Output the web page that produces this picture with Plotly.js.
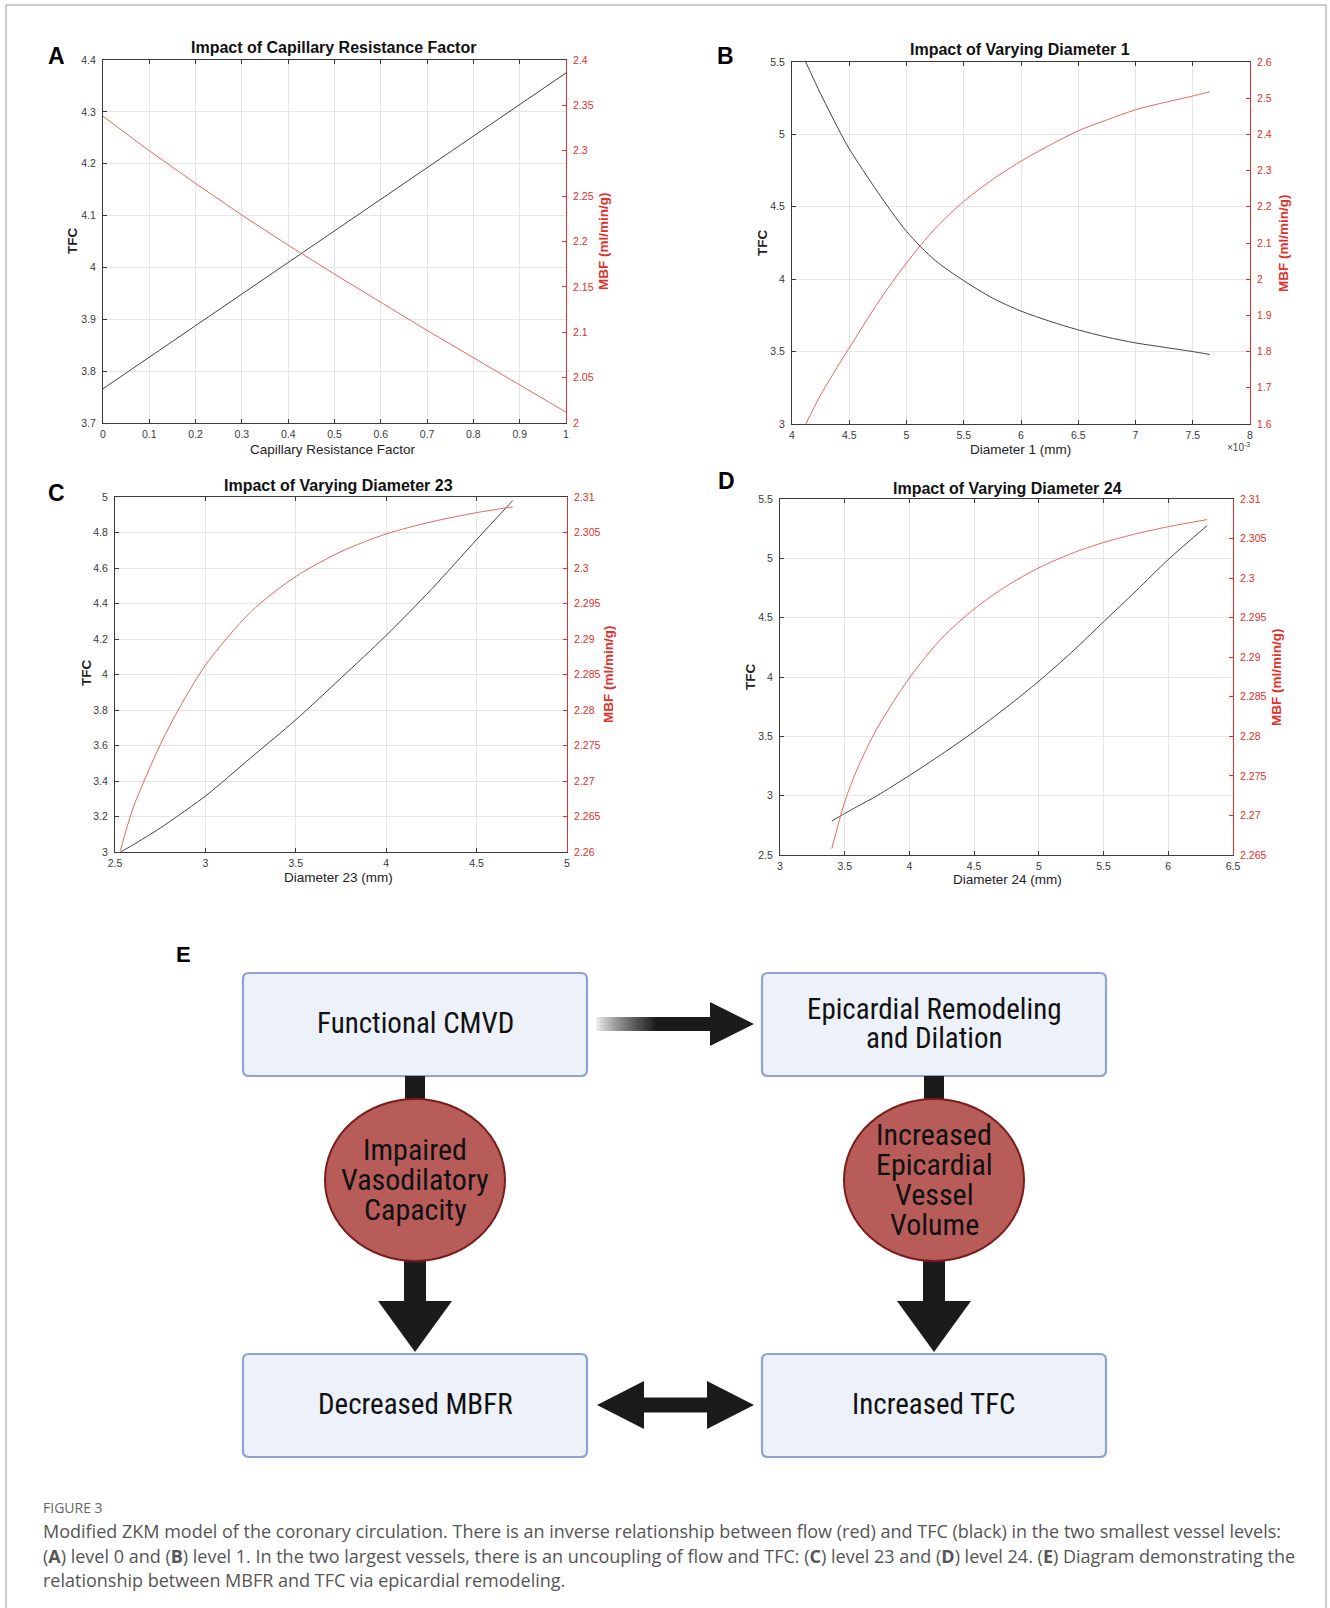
<!DOCTYPE html>
<html>
<head>
<meta charset="utf-8">
<script src="https://cdn.plot.ly/plotly-3.0.1.min.js"></script>
<style>html,body{margin:0;padding:0;background:#fff;}#fig{width:1330px;height:1608px;}</style>
</head>
<body>
<div id="fig"></div>
<script>
// ---------- DATA ----------
// Panel A: Capillary Resistance Factor
const xA   = [0, 0.1, 0.2, 0.3, 0.4, 0.5, 0.6, 0.7, 0.8, 0.9, 1.0];
const tfcA = [3.766, 3.827, 3.888, 3.948, 4.009, 4.070, 4.131, 4.192, 4.253, 4.314, 4.375];
const mbfA = [2.338, 2.300, 2.264, 2.229, 2.196, 2.164, 2.133, 2.102, 2.072, 2.042, 2.012];
// Panel B: Diameter 1 (mm, values x10^-3)
const xB   = [4.12, 4.25, 4.43, 4.5, 4.75, 5.0, 5.25, 5.5, 5.75, 6.0, 6.25, 6.5, 6.75, 7.0, 7.25, 7.5, 7.65];
const tfcB = [5.50, 5.28, 5.00, 4.90, 4.60, 4.33, 4.13, 3.99, 3.87, 3.78, 3.71, 3.65, 3.60, 3.56, 3.53, 3.50, 3.48];
const mbfB = [1.60, 1.68, 1.775, 1.81, 1.935, 2.045, 2.14, 2.215, 2.275, 2.326, 2.37, 2.41, 2.44, 2.468, 2.488, 2.506, 2.518];
// Panel C: Diameter 23 (mm)
const xC   = [2.53, 2.6, 2.75, 2.85, 3.0, 3.25, 3.5, 3.75, 4.0, 4.25, 4.5, 4.7];
const tfcC = [3.00, 3.04, 3.135, 3.205, 3.315, 3.53, 3.745, 3.98, 4.22, 4.48, 4.76, 4.98];
const mbfC = [2.2602, 2.2662, 2.2751, 2.2800, 2.2863, 2.2938, 2.2988, 2.3023, 2.3048, 2.3065, 2.3078, 2.3086];
// Panel D: Diameter 24 (mm)
const xD   = [3.4, 3.5, 3.6, 3.75, 4.0, 4.25, 4.5, 4.75, 5.0, 5.25, 5.5, 5.75, 6.0, 6.3];
const tfcD = [2.786, 2.85, 2.91, 3.00, 3.17, 3.35, 3.54, 3.745, 3.965, 4.205, 4.465, 4.725, 4.99, 5.276];
const mbfD = [2.2658, 2.2717, 2.2760, 2.2810, 2.2874, 2.2924, 2.2961, 2.2990, 2.3013, 2.3031, 2.3045, 2.3056, 2.3065, 2.3074];

const panelTitles = ["Impact of Capillary Resistance Factor", "Impact of Varying Diameter 1",
                     "Impact of Varying Diameter 23", "Impact of Varying Diameter 24"];
const xTitles = ["Capillary Resistance Factor", "Diameter 1 (mm)", "Diameter 23 (mm)", "Diameter 24 (mm)"];
const yLeftTitle = "TFC";
const yRightTitle = "MBF (ml/min/g)";
const panelLetters = ["A", "B", "C", "D"];

const boxLabels = [["Functional CMVD"], ["Epicardial Remodeling", "and Dilation"], ["Decreased MBFR"], ["Increased TFC"]];
const ovalLabels = [["Impaired", "Vasodilatory", "Capacity"], ["Increased", "Epicardial", "Vessel", "Volume"]];

const captionHead = "FIGURE 3";
const captionLines = [
  "Modified ZKM model of the coronary circulation. There is an inverse relationship between flow (red) and TFC (black) in the two smallest vessel levels:",
  "(<b>A</b>) level 0 and (<b>B</b>) level 1. In the two largest vessels, there is an uncoupling of flow and TFC: (<b>C</b>) level 23 and (<b>D</b>) level 24. (<b>E</b>) Diagram demonstrating the",
  "relationship between MBFR and TFC via epicardial remodeling."
];

// ---------- LAYOUT HELPERS ----------
const W = 1330, H = 1608;
const px = x => x / W;
const py = y => 1 - y / H;
const FONT = "Liberation Sans, Arial, sans-serif";
const BLK = "#3a3a3a", RED = "#e0302a", REDLINE = "#e06a66", GRID = "#e6e6e6";

// panel frames in pixels [left, right, top, bottom]
const frames = [
  [103, 566, 60, 423],
  [792, 1250, 62, 424],
  [115, 567, 497, 852],
  [780, 1233, 499, 855]
];
const xRanges = [[0, 1], [4, 8], [2.5, 5], [3, 6.5]];
const xDt = [0.1, 0.5, 0.5, 0.5];
const yLRanges = [[3.7, 4.4], [3, 5.5], [3, 5], [2.5, 5.5]];
const yLDt = [0.1, 0.5, 0.2, 0.5];
const yRRanges = [[2, 2.4], [1.6, 2.6], [2.26, 2.31], [2.265, 2.31]];
const yRDt = [0.05, 0.1, 0.005, 0.005];

const xs = [xA, xB, xC, xD], tfcs = [tfcA, tfcB, tfcC, tfcD], mbfs = [mbfA, mbfB, mbfC, mbfD];

const layout = {
  width: W, height: H,
  margin: {l: 0, r: 0, t: 0, b: 0},
  paper_bgcolor: "#fff", plot_bgcolor: "#fff",
  showlegend: false,
  font: {family: FONT, size: 10.5, color: BLK},
  annotations: [], shapes: []
};
const data = [];
const TF = 10.5;

for (let i = 0; i < 4; i++) {
  const [l, r, t, b] = frames[i];
  const xn = i === 0 ? "" : String(i + 1);
  const yl = 2 * i + 1, yr = 2 * i + 2;
  const ylName = yl === 1 ? "" : String(yl);
  layout["xaxis" + xn] = {
    domain: [px(l), px(r)], anchor: "y" + ylName, range: xRanges[i], dtick: xDt[i], tick0: xRanges[i][0],
    ticks: "inside", ticklen: 4, tickcolor: BLK, showline: true, linecolor: BLK, linewidth: 1,
    mirror: "ticks", showgrid: true, gridcolor: GRID, zeroline: false, ticklabelstandoff: 1,
    tickfont: {family: FONT, size: TF, color: BLK}, fixedrange: true
  };
  layout["yaxis" + ylName] = {
    domain: [py(b), py(t)], anchor: "x" + xn, range: yLRanges[i], dtick: yLDt[i], tick0: yLRanges[i][0],
    ticks: "inside", ticklen: 4, tickcolor: BLK, showline: true, linecolor: BLK, linewidth: 1,
    showgrid: true, gridcolor: GRID, zeroline: false, ticklabelstandoff: 4,
    tickfont: {family: FONT, size: TF, color: BLK}, fixedrange: true
  };
  layout["yaxis" + yr] = {
    overlaying: "y" + ylName, side: "right", anchor: "x" + xn, range: yRRanges[i], dtick: yRDt[i], tick0: yRRanges[i][0],
    ticks: "inside", ticklen: 4, tickcolor: RED, showline: true, linecolor: RED, linewidth: 1,
    showgrid: false, zeroline: false, ticklabelstandoff: 4,
    tickfont: {family: FONT, size: TF, color: RED}, fixedrange: true
  };
  data.push({x: xs[i], y: tfcs[i], type: "scatter", mode: "lines", xaxis: "x" + xn, yaxis: "y" + ylName,
             line: {color: "#444", width: 1, shape: i === 0 ? "linear" : "spline", smoothing: 0.8}, name: "TFC"});
  data.push({x: xs[i], y: mbfs[i], type: "scatter", mode: "lines", xaxis: "x" + xn, yaxis: "y" + yr,
             line: {color: REDLINE, width: 1, shape: i === 0 ? "linear" : "spline", smoothing: 0.8}, name: "MBF"});
}

// Panel titles, letters, axis titles (positions in pixels)
const titlePos = [[333, 48], [1020, 50], [338, 485], [1007, 488]];
const letterPos = [[56, 56], [725, 56], [56, 493], [726, 481]];
const xTitlePos = [[333, 449], [1020, 450], [338, 877], [1007, 880]];
const yLTitlePos = [[72, 241], [762, 243], [86, 673], [751, 677]];
const yRTitlePos = [[603, 241], [1283, 243], [608, 674], [1277, 677]];
const ann = layout.annotations;
const txt = (text, x, y, font, extra) => ann.push(Object.assign({
  text, x: px(x), y: py(y), xref: "paper", yref: "paper", showarrow: false,
  xanchor: "center", yanchor: "middle", font
}, extra || {}));

for (let i = 0; i < 4; i++) {
  txt("<b>" + panelTitles[i] + "</b>", titlePos[i][0], titlePos[i][1], {family: FONT, size: 16, color: "#111"});
  txt("<b>" + panelLetters[i] + "</b>", letterPos[i][0], letterPos[i][1], {family: FONT, size: 23, color: "#000"});
  txt(xTitles[i], xTitlePos[i][0], xTitlePos[i][1], {family: FONT, size: 13.5, color: "#222"});
  txt("<b>" + yLeftTitle + "</b>", yLTitlePos[i][0], yLTitlePos[i][1], {family: FONT, size: 13.5, color: "#222"}, {textangle: -90});
  txt("<b>" + yRightTitle + "</b>", yRTitlePos[i][0], yRTitlePos[i][1], {family: FONT, size: 13.5, color: RED}, {textangle: -90});
}
txt("\u00d710<sup>-3</sup>", 1238, 447, {family: FONT, size: 10, color: "#444"});

// ---------- DIAGRAM E ----------
const shp = layout.shapes;
const P = (x, y) => px(x).toFixed(6) + "," + py(y).toFixed(6);
function rr(x0, y0, x1, y1, r) {
  return "M" + P(x0 + r, y0) + " L" + P(x1 - r, y0) + " Q" + P(x1, y0) + " " + P(x1, y0 + r) +
         " L" + P(x1, y1 - r) + " Q" + P(x1, y1) + " " + P(x1 - r, y1) +
         " L" + P(x0 + r, y1) + " Q" + P(x0, y1) + " " + P(x0, y1 - r) +
         " L" + P(x0, y0 + r) + " Q" + P(x0, y0) + " " + P(x0 + r, y0) + " Z";
}
function poly(pts) { return "M" + pts.map(p => P(p[0], p[1])).join(" L") + " Z"; }
const ARW = "#1b1b1b";
const addPath = (path, fill, lineColor, lw) => shp.push({type: "path", xref: "paper", yref: "paper", path,
  fillcolor: fill, line: {color: lineColor || fill, width: lw === undefined ? 0 : lw}, layer: "above"});

// outer figure frame
shp.push({type: "rect", xref: "paper", yref: "paper", x0: px(6), x1: px(1326), y0: py(1640), y1: py(5),
          line: {color: "#9a9a9a", width: 1}, fillcolor: "rgba(0,0,0,0)", layer: "below"});

// boxes
const boxes = [[243, 973, 587, 1076], [762, 973, 1106, 1076], [243, 1354, 587, 1457], [762, 1354, 1106, 1457]];
boxes.forEach(b => addPath(rr(b[0], b[1], b[2], b[3], 6), "#edf1fa", "#8fa3d3", 2.2));

// connector stubs above ovals
[415, 934].forEach(cx => addPath(poly([[cx - 10, 1076], [cx + 10, 1076], [cx + 10, 1104], [cx - 10, 1104]]), ARW));
// shafts + heads below ovals
[415, 934].forEach(cx => {
  addPath(poly([[cx - 11, 1255], [cx + 11, 1255], [cx + 11, 1302], [cx - 11, 1302]]), ARW);
  addPath(poly([[cx - 37, 1301], [cx + 37, 1301], [cx, 1352]]), ARW);
});

// ovals
[415, 934].forEach(cx => shp.push({type: "circle", xref: "paper", yref: "paper",
  x0: px(cx - 90), x1: px(cx + 90), y0: py(1261), y1: py(1099),
  fillcolor: "#b85c5a", line: {color: "#7a1c1c", width: 2}, layer: "above"}));

// top horizontal arrow with fading tail (solid colour slices, light to dark)
const fadeStart = 596, fadeEnd = 656, steps = 40;
for (let k = 0; k < steps; k++) {
  const a0 = fadeStart + (fadeEnd - fadeStart) * k / steps;
  const a1 = fadeStart + (fadeEnd - fadeStart) * (k + 1) / steps + 0.8;
  const f = Math.pow((k + 0.5) / steps, 0.8);
  const c = Math.round(245 - (245 - 27) * f);
  addPath(poly([[a0, 1017], [a1, 1017], [a1, 1031], [a0, 1031]]), "rgb(" + c + "," + c + "," + c + ")");
}
addPath(poly([[fadeEnd, 1017], [711, 1017], [711, 1031], [fadeEnd, 1031]]), ARW);
addPath(poly([[710, 1002], [754, 1024], [710, 1046]]), ARW);

// bottom double arrow
addPath(poly([[597, 1405], [644, 1381], [644, 1397.5], [707, 1397.5], [707, 1381], [754, 1405],
              [707, 1429], [707, 1412.5], [644, 1412.5], [644, 1429]]), ARW);

// diagram text, one annotation per line
const DF = "Liberation Sans Narrow, Arial Narrow, Roboto Condensed, DejaVu Sans Condensed, sans-serif";
txt("<b>E</b>", 183, 954, {family: FONT, size: 22, color: "#000"});
const boxCenters = [[415, 1023], [934, 1023], [415, 1404], [934, 1404]];
boxLabels.forEach((lines, i) => {
  const lh = 29, y0 = boxCenters[i][1] - (lines.length - 1) * lh / 2;
  lines.forEach((s, j) => txt(s, boxCenters[i][0], y0 + j * lh, {family: DF, size: 29, color: "#111"}));
});
const ovalCenters = [[415, 1179], [934, 1179]];
ovalLabels.forEach((lines, i) => {
  const lh = 30, y0 = ovalCenters[i][1] - (lines.length - 1) * lh / 2;
  lines.forEach((s, j) => txt(s, ovalCenters[i][0], y0 + j * lh, {family: DF, size: 30, color: "#111"}));
});

// caption
const CF = "Open Sans, Noto Sans, sans-serif";
txt(captionHead, 41, 1507, {family: CF, size: 14, color: "#666"}, {xanchor: "left"});
captionLines.forEach((line, k) => txt(line, 41, 1531 + k * 24.5, {family: CF, size: 18, color: "#555"}, {xanchor: "left"}));

Plotly.newPlot("fig", data, layout, {displayModeBar: false, staticPlot: true});
</script>
</body>
</html>
